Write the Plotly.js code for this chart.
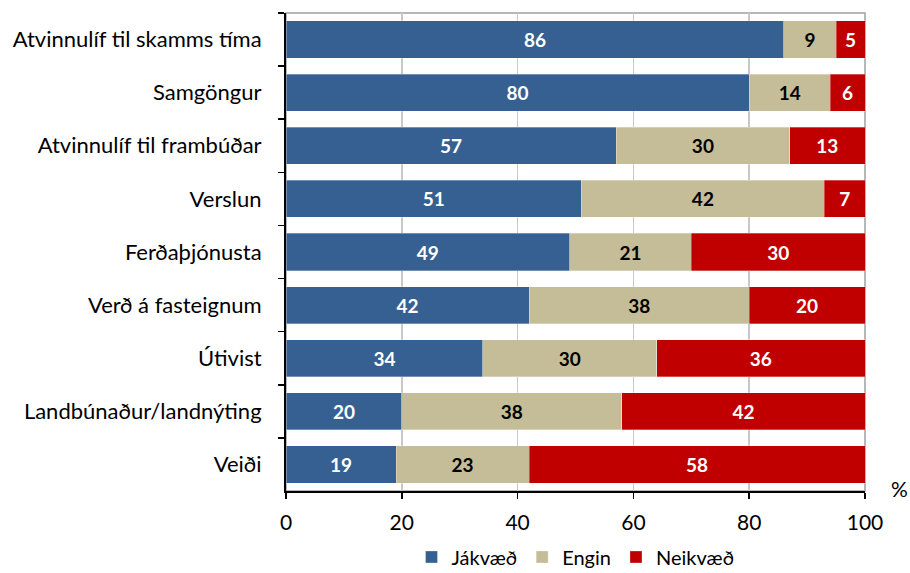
<!DOCTYPE html>
<html>
<head>
<meta charset="utf-8">
<script src="https://cdn.plot.ly/plotly-3.0.1.min.js"></script>
<style>html,body{margin:0;padding:0;background:#fff;}#chart{width:910px;height:573px;}</style>
</head>
<body>
<div id="chart"></div>
<script>
const categories = ["Atvinnulíf til skamms tíma","Samgöngur","Atvinnulíf til frambúðar","Verslun","Ferðaþjónusta","Verð á fasteignum","Útivist","Landbúnaður/landnýting","Veiði"];
const jakvaed = [86,80,57,51,49,42,34,20,19];
const engin = [9,14,30,42,21,38,30,38,23];
const neikvaed = [5,6,13,7,30,20,36,42,58];
const seriesNames = ["Jákvæð","Engin","Neikvæð"];
const xTicks = [0,20,40,60,80,100];

const font = "Lato, 'Open Sans', sans-serif";
function mk(name, vals, color, txtColor){
  return {type:'bar', orientation:'h', name:name, y:categories, x:vals,
    marker:{color:color, line:{color:'rgba(255,255,255,0.6)', width:0.5}},
    text:vals.map(v=>'<b>'+v+'</b>'), textposition:'inside', insidetextanchor:'middle',
    textangle:0, constraintext:'none',
    textfont:{family:font, size:19, color:txtColor}, hoverinfo:'none'};
}
const data = [
  mk(seriesNames[0], jakvaed, '#376092', '#ffffff'),
  mk(seriesNames[1], engin, '#C4BD97', '#000000'),
  mk(seriesNames[2], neikvaed, '#C00000', '#ffffff')
];
const layout = {
  width:910, height:573, barmode:'stack', bargap:0.3,
  margin:{l:286, r:45, t:13, b:82, autoexpand:false},
  paper_bgcolor:'#fff', plot_bgcolor:'#fff',
  font:{family:font, size:20, color:'#000'},
  xaxis:{range:[0,100], tickvals:xTicks, ticktext:xTicks.map(String), showgrid:true, gridcolor:'#c8c8c8', gridwidth:1.5,
    zeroline:false, showline:true, linecolor:'#000', linewidth:2, ticks:'outside', ticklen:6, tickcolor:'#000', tickwidth:1.5,
    tickfont:{family:font, size:21}, ticklabelstandoff:6, fixedrange:true},
  yaxis:{type:'category', autorange:'reversed', showline:true, linecolor:'#000', linewidth:2, ticks:'outside', ticklen:6,
    tickcolor:'#000', tickwidth:1.5, tickson:'boundaries', showgrid:false, tickfont:{family:font, size:22}, ticklabelstandoff:18, fixedrange:true},
  showlegend:true,
  legend:{orientation:'h', x:0.5, xanchor:'center', y:-0.138, yanchor:'middle', font:{family:font, size:20}, traceorder:'normal', itemwidth:30},
  shapes:[{type:'rect', xref:'paper', yref:'paper', x0:0, x1:1, y0:0, y1:1, line:{color:'#a0a0a0', width:1.5}, layer:'below'}],
  annotations:[{text:'%', xref:'paper', yref:'paper', x:1.06, y:0.005, yanchor:'middle', xanchor:'center', showarrow:false, font:{family:font, size:21}}]
};
Plotly.newPlot('chart', data, layout, {displayModeBar:false, staticPlot:true});
</script>
</body>
</html>
